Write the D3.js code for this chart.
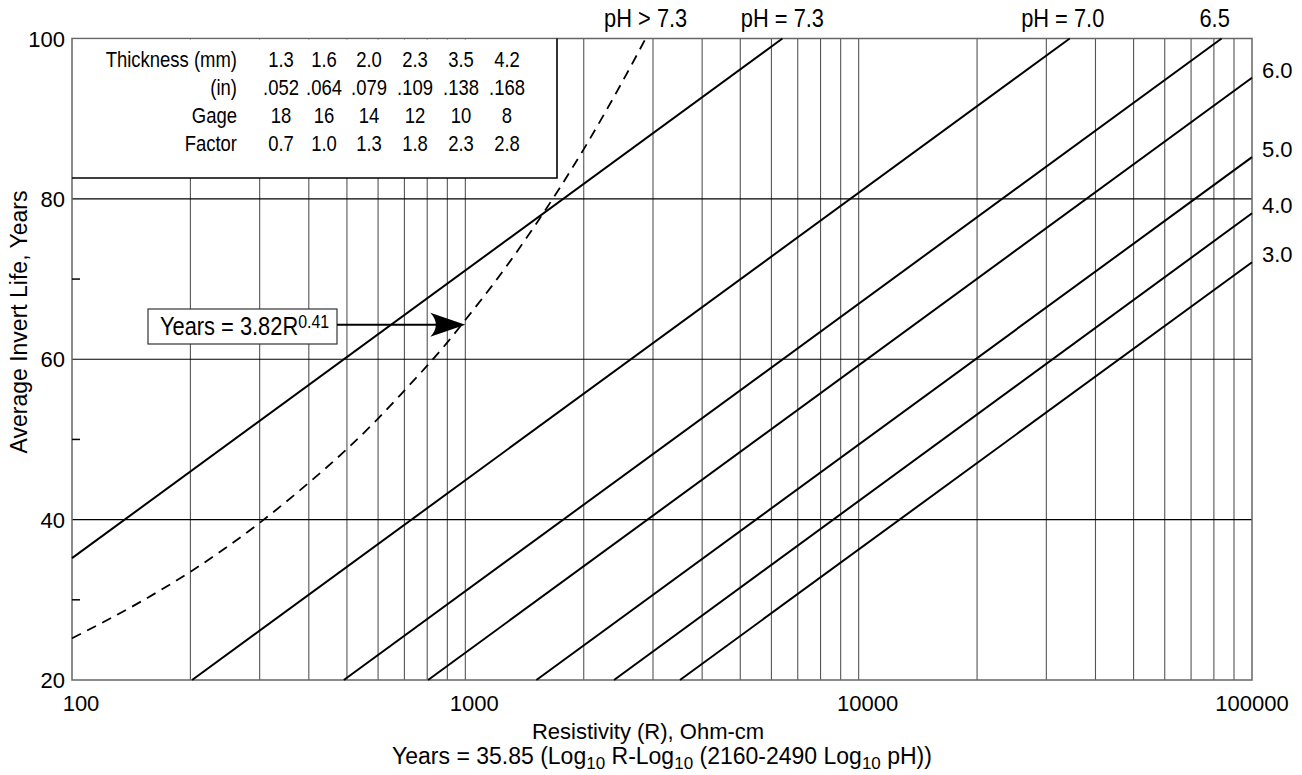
<!DOCTYPE html>
<html>
<head>
<meta charset="utf-8">
<script src="https://cdn.jsdelivr.net/npm/d3@7"></script>
<style>
  body { margin: 0; background: #fff; }
  text { font-family: "Liberation Sans", Arial, Helvetica, sans-serif; fill: #000; }
</style>
</head>
<body>
<div id="chart"></div>
<script>
// values
var phLabels = ['pH = 7.3', 'pH = 7.0', '6.5', '6.0', '5.0', '4.0', '3.0'];
var lineStartR = [100, 202, 491, 804, 1516, 2388, 3513];
var lineStartYears = [35.2, 20, 20, 20, 20, 20, 20];
var lineEndR = [6400, 34400, 83700, 100000, 100000, 100000, 100000];
var lineEndYears = [100, 100, 100, 95.1, 85.2, 78.2, 72.1];

// dashed curve, Years = 3.82R^0.41
var curveR = [100, 150, 200, 300, 400, 500, 600, 700, 800, 900, 1000, 1200, 1500, 2000, 2500, 2874];
var curveYears = [25.2, 29.8, 33.5, 39.6, 44.6, 48.8, 52.6, 56.1, 59.2, 62.1, 64.9, 69.9, 76.6, 86.2, 94.5, 100];
var arrowTarget = [1000, 64.3];

// table
var rowLabels = ['Thickness (mm)', '(in)', 'Gage', 'Factor'];
var thicknessMm = ['1.3', '1.6', '2.0', '2.3', '3.5', '4.2'];
var thicknessIn = ['.052', '.064', '.079', '.109', '.138', '.168'];
var gage = ['18', '16', '14', '12', '10', '8'];
var factor = ['0.7', '1.0', '1.3', '1.8', '2.3', '2.8'];

var xTicks = [100, 1000, 10000, 100000];
var yTicks = [20, 40, 60, 80, 100];
var yMinorTicks = [30, 50, 70];
var yGrid = [40, 60, 80];

(function() {
  var width = 1302;
  var height = 775;
  var pLeft = 72, pRight = 1252, pTop = 38.5, pBottom = 680;

  var svg = d3.select('#chart').append('svg')
    .attr('width', width)
    .attr('height', height);

  var x = d3.scaleLog().domain([100, 100000]).range([pLeft, pRight]);
  var y = d3.scaleLinear().domain([20, 100]).range([pBottom, pTop]);

  // condensed text: no narrow font installed, so squeeze horizontally
  function narrowText(parent, tx, ty, anchor, size, str) {
    var g = parent.append('g')
      .attr('transform', 'translate(' + tx + ',' + ty + ') scale(0.84,1)');
    return g.append('text')
      .attr('text-anchor', anchor)
      .style('font-size', size + 'px')
      .text(str);
  }

  // vertical grid
  var vLines = x.ticks().filter(function(d) { return d > 100 && d < 100000; });
  svg.append('g').selectAll('line').data(vLines).enter().append('line')
    .attr('x1', function(d) { return x(d); })
    .attr('x2', function(d) { return x(d); })
    .attr('y1', pTop).attr('y2', pBottom)
    .attr('stroke', '#555').attr('stroke-width', 1.1);

  // horizontal grid
  svg.append('g').selectAll('line').data(yGrid).enter().append('line')
    .attr('x1', pLeft).attr('x2', pRight)
    .attr('y1', function(d) { return y(d); })
    .attr('y2', function(d) { return y(d); })
    .attr('stroke', '#000').attr('stroke-width', 1.2);

  // frame
  svg.append('rect')
    .attr('x', pLeft).attr('y', pTop)
    .attr('width', pRight - pLeft).attr('height', pBottom - pTop)
    .attr('fill', 'none').attr('stroke', '#666').attr('stroke-width', 1.5);

  // minor ticks on the y axis
  svg.append('g').selectAll('line').data(yMinorTicks).enter().append('line')
    .attr('x1', pLeft).attr('x2', pLeft + 8)
    .attr('y1', function(d) { return y(d); })
    .attr('y2', function(d) { return y(d); })
    .attr('stroke', '#000').attr('stroke-width', 1.5);

  // pH lines
  var plot = svg.append('g');
  phLabels.forEach(function(lab, i) {
    plot.append('line')
      .attr('x1', x(lineStartR[i])).attr('y1', y(lineStartYears[i]))
      .attr('x2', x(lineEndR[i])).attr('y2', y(lineEndYears[i]))
      .attr('stroke', '#000').attr('stroke-width', 2);
  });

  // dashed curve
  var curvePts = curveR.map(function(r, i) { return [x(r), y(curveYears[i])]; });
  plot.append('path')
    .attr('d', d3.line().curve(d3.curveMonotoneX)(curvePts))
    .attr('fill', 'none').attr('stroke', '#000')
    .attr('stroke-width', 1.8).attr('stroke-dasharray', '10,7');

  // table box (covers the grid)
  var tabRight = 557, tabBottom = 178;
  svg.append('rect')
    .attr('x', pLeft + 1).attr('y', pTop + 1)
    .attr('width', tabRight - pLeft - 1).attr('height', tabBottom - pTop - 1)
    .attr('fill', '#fff');
  svg.append('path')
    .attr('d', 'M' + tabRight + ',' + pTop + 'V' + tabBottom + 'H' + pLeft)
    .attr('fill', 'none').attr('stroke', '#000').attr('stroke-width', 1.6);

  var rows = [thicknessMm, thicknessIn, gage, factor];
  var rowY = [67, 95, 123, 151];
  var colX = [281, 324, 369, 415, 461, 507];
  var tab = svg.append('g');
  rows.forEach(function(row, r) {
    narrowText(tab, 237, rowY[r], 'end', 22, rowLabels[r]);
    row.forEach(function(v, c) {
      narrowText(tab, colX[c], rowY[r], 'middle', 22, v);
    });
  });

  // Years = 3.82R^0.41 label and arrow
  var boxX = 148, boxY = 309, boxW = 189, boxH = 35;
  svg.append('rect')
    .attr('x', boxX).attr('y', boxY).attr('width', boxW).attr('height', boxH)
    .attr('fill', '#fff').attr('stroke', '#333').attr('stroke-width', 1.2);
  var eq = narrowText(svg, boxX + 12, boxY + 26, 'start', 26, 'Years = 3.82R');
  eq.append('tspan').attr('dy', -7).style('font-size', '19px').text('0.41');

  var tipX = x(arrowTarget[0]), tipY = y(arrowTarget[1]);
  svg.append('line')
    .attr('x1', boxX + boxW).attr('y1', tipY)
    .attr('x2', tipX - 20).attr('y2', tipY)
    .attr('stroke', '#000').attr('stroke-width', 2);
  svg.append('path')
    .attr('d', 'M' + tipX + ',' + tipY +
               'L' + (tipX - 35) + ',' + (tipY - 12) +
               'Q' + (tipX - 24) + ',' + tipY + ' ' + (tipX - 35) + ',' + (tipY + 12) + 'Z')
    .attr('fill', '#000');

  // axis labels
  var axisFont = '22px';
  svg.append('g').selectAll('text').data(yTicks).enter().append('text')
    .attr('x', pLeft - 7).attr('y', function(d) { return y(d) + 8; })
    .attr('text-anchor', 'end').style('font-size', axisFont)
    .text(function(d) { return d; });

  svg.append('g').selectAll('text').data(xTicks).enter().append('text')
    .attr('x', function(d, i) { return x(d) + (i < 3 ? 9 : 0); })
    .attr('y', 711)
    .attr('text-anchor', 'middle').style('font-size', axisFont)
    .text(function(d) { return d; });

  svg.append('text')
    .attr('transform', 'translate(27,322) rotate(-90)')
    .attr('text-anchor', 'middle').style('font-size', '23px')
    .text('Average Invert Life, Years');

  svg.append('text')
    .attr('x', 648).attr('y', 739)
    .attr('text-anchor', 'middle').style('font-size', '22px')
    .text('Resistivity (R), Ohm-cm');

  var formula = svg.append('text')
    .attr('x', 662).attr('y', 764)
    .attr('text-anchor', 'middle').style('font-size', '23px');
  formula.append('tspan').text('Years = 35.85 (Log');
  formula.append('tspan').attr('dy', 5).style('font-size', '17px').text('10');
  formula.append('tspan').attr('dy', -5).text(' R-Log');
  formula.append('tspan').attr('dy', 5).style('font-size', '17px').text('10');
  formula.append('tspan').attr('dy', -5).text(' (2160-2490 Log');
  formula.append('tspan').attr('dy', 5).style('font-size', '17px').text('10');
  formula.append('tspan').attr('dy', -5).text(' pH))');

  // line labels
  var labels = svg.append('g');
  narrowText(labels, x(curveR[curveR.length - 1]), 27, 'middle', 26, 'pH > 7.3');
  phLabels.forEach(function(lab, i) {
    if (lineEndYears[i] >= 100) {
      narrowText(labels, x(lineEndR[i]) - (i > 0 ? 7 : 0), 27, 'middle', 26, lab);
    } else {
      labels.append('text')
        .attr('x', pRight + 10).attr('y', y(lineEndYears[i]))
        .style('font-size', '22px')
        .text(lab);
    }
  });
})();
</script>
</body>
</html>
